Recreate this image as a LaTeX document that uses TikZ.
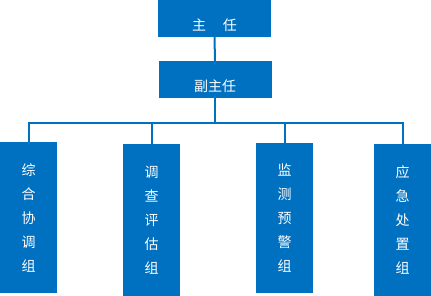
\documentclass[tikz,border=0pt]{standalone}
\usepackage{fontspec}
\newfontfamily\cjk{Noto Sans CJK SC}
\usetikzlibrary{positioning,calc}
\definecolor{officeblue}{RGB}{0,112,192}
\tikzset{
  headbox/.style={fill=officeblue, text=white, font=\cjk\fontsize{14}{24}\selectfont,
    minimum width=113pt, inner sep=0pt, text height=31pt, text depth=6pt},
  groupbox/.style={fill=officeblue, text=white, font=\cjk\fontsize{14}{24}\selectfont,
    minimum width=57pt, inner sep=0pt, align=center},
  wire/.style={draw=officeblue, line width=2pt}
}

\begin{document}
\begin{tikzpicture}[x=1pt, y=1pt]
\useasboundingbox (0,0) rectangle (431,-296);

% Leadership
\node[headbox] (chief) at (214.5,-18.5) {主\hspace{1.2em}任};
\node[headbox] (deputy) at (215,-79.5) {副主任};

% Working groups
\node[groupbox, minimum height=151pt] (general) at (28.5,-217.5) {综\\合\\协\\调\\组};
\node[groupbox, minimum height=152pt] (survey) at (151.5,-220) {调\\查\\评\\估\\组};
\node[groupbox, minimum height=150pt] (monitor) at (284.5,-218) {监\\测\\预\\警\\组};
\node[groupbox, minimum height=152pt] (response) at (402.5,-220) {应\\急\\处\\置\\组};

% Connectors
\coordinate (bus) at (0,-123.5);
\draw[wire] (chief.south) -- (deputy.north);
\draw[wire] (deputy.south) -- (deputy.south |- bus);
\draw[wire] (general.north) -- (general.north |- bus) -- (response.north |- bus) -- (response.north);
\draw[wire] (survey.north) -- (survey.north |- bus);
\draw[wire] (monitor.north) -- (monitor.north |- bus);

\end{tikzpicture}
\end{document}
